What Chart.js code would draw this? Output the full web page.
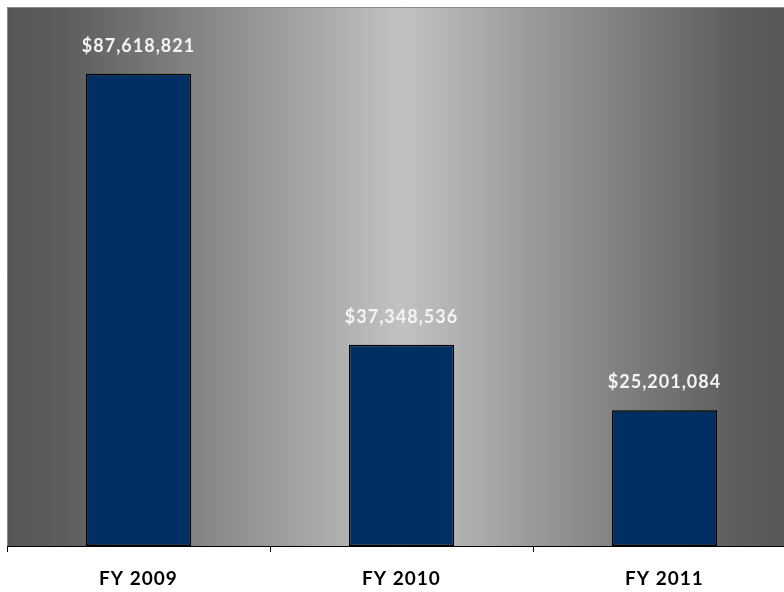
<!DOCTYPE html>
<html>
<head>
<meta charset="utf-8">
<script src="https://cdn.jsdelivr.net/npm/chart.js@4/dist/chart.umd.min.js"></script>
<style>
  html, body { margin: 0; padding: 0; background: #fff; overflow: hidden; }
  #wrap { width: 800px; height: 592px; }
</style>
</head>
<body>
<div id="wrap"><canvas id="c" width="800" height="592"></canvas></div>
<script>
const categories = ["FY 2009", "FY 2010", "FY 2011"];
const amounts = [87618821, 37348536, 25201084];
const yMax = 100000000;

// fondo degradado del area de trazado
const plotBackground = {
  id: "plotBackground",
  beforeDraw(chart) {
    const { ctx, chartArea: a } = chart;
    ctx.letterSpacing = "1px";
    const g = ctx.createLinearGradient(a.left, 0, a.right, 0);
    g.addColorStop(0, "#565656");
    g.addColorStop(0.08, "#5e5e5e");
    g.addColorStop(0.5, "#c2c2c2");
    g.addColorStop(0.92, "#5e5e5e");
    g.addColorStop(1, "#565656");
    ctx.save();
    ctx.fillStyle = g;
    ctx.fillRect(a.left, a.top, a.right - a.left, a.bottom - a.top);
    ctx.strokeStyle = "#8a8a8a";
    ctx.lineWidth = 1;
    ctx.beginPath();
    ctx.moveTo(a.left + 0.5, a.bottom);
    ctx.lineTo(a.left + 0.5, a.top + 0.5);
    ctx.lineTo(a.right, a.top + 0.5);
    ctx.stroke();
    ctx.restore();
  }
};

// etiquetas de valor sobre cada barra
const valueLabels = {
  id: "valueLabels",
  afterDatasetsDraw(chart) {
    const { ctx } = chart;
    const meta = chart.getDatasetMeta(0);
    ctx.save();
    ctx.letterSpacing = "1px";
    ctx.font = "bold 18px Lato, 'Open Sans', sans-serif";
    ctx.fillStyle = "#f4f4f4";
    ctx.textAlign = "center";
    ctx.textBaseline = "middle";
    meta.data.forEach((bar, i) => {
      const txt = "$" + amounts[i].toLocaleString("en-US");
      ctx.fillText(txt, bar.x, bar.y - 28);
    });
    ctx.restore();
  }
};

new Chart(document.getElementById("c"), {
  type: "bar",
  data: {
    labels: categories,
    datasets: [{
      data: amounts,
      backgroundColor: "#003063",
      borderColor: "#000000",
      borderWidth: 1.5,
      borderSkipped: false,
      categoryPercentage: 1,
      barPercentage: 0.4
    }]
  },
  options: {
    responsive: false,
    animation: false,
    layout: { padding: { left: 7, top: 7, right: 4, bottom: 0 } },
    plugins: { legend: { display: false }, tooltip: { enabled: false } },
    scales: {
      x: {
        afterFit(scale) { scale.height = 46; },
        grid: {
          display: true,
          offset: true,
          drawOnChartArea: false,
          drawTicks: true,
          tickLength: 6,
          color: "#000000"
        },
        border: { display: true, color: "#000000", width: 1 },
        ticks: {
          color: "#000000",
          padding: 15,
          font: { family: "Lato, 'Open Sans', sans-serif", size: 19, weight: "bold" }
        }
      },
      y: {
        display: false,
        min: 0,
        max: yMax
      }
    }
  },
  plugins: [plotBackground, valueLabels]
});
</script>
</body>
</html>
